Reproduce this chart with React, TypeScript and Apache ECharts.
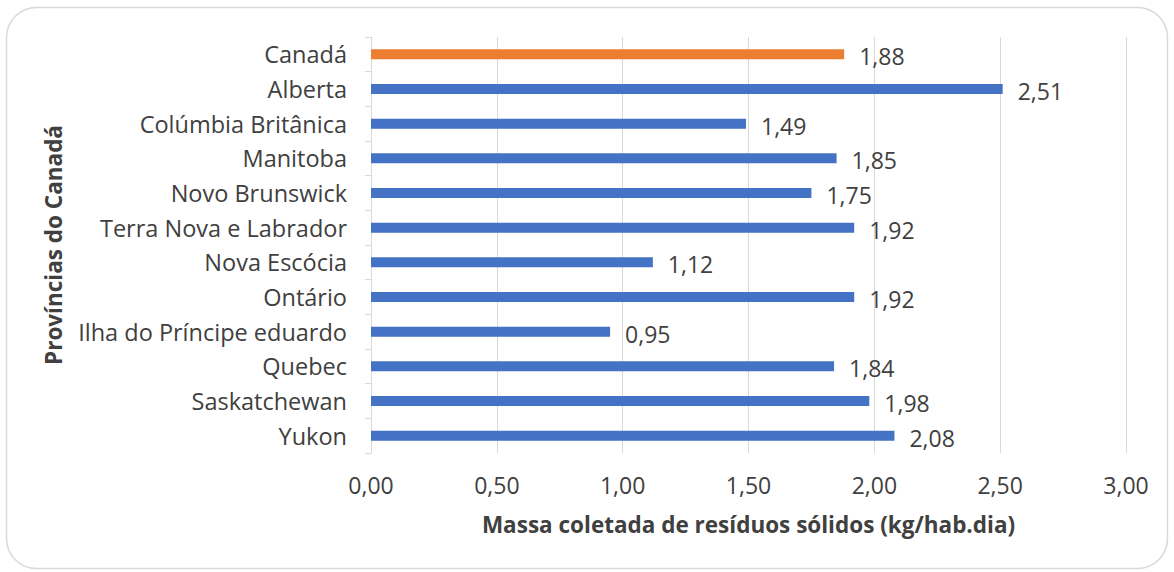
import React, { useEffect, useRef } from "react";
import * as echarts from "echarts";

const categories = [
  "Canadá",
  "Alberta",
  "Colúmbia Britânica",
  "Manitoba",
  "Novo Brunswick",
  "Terra Nova e Labrador",
  "Nova Escócia",
  "Ontário",
  "Ilha do Príncipe eduardo",
  "Quebec",
  "Saskatchewan",
  "Yukon",
];
const values = [1.88, 2.51, 1.49, 1.85, 1.75, 1.92, 1.12, 1.92, 0.95, 1.84, 1.98, 2.08];
const highlight = "Canadá";
const xTicks = { min: 0, max: 3, interval: 0.5 };
const xTitle = "Massa coletada de resíduos sólidos (kg/hab.dia)";
const yTitle = "Províncias do Canadá";

const FONT = "Open Sans";
const fmt = (v: number) => v.toFixed(2).replace(".", ",");

export default function App() {
  const ref = useRef<HTMLDivElement>(null);
  useEffect(() => {
    if (!ref.current) return;
    const chart = echarts.init(ref.current, undefined, { renderer: "svg" });
    chart.setOption({
      animation: false,
      backgroundColor: "#ffffff",
      textStyle: { fontFamily: FONT },
      graphic: [
        {
          type: "rect",
          shape: { x: 6.5, y: 7.5, width: 1161, height: 561, r: 30 },
          style: { fill: "none", stroke: "#d9d9d9", lineWidth: 1.5 },
          silent: true,
        },
      ],
      grid: { left: 371, right: 48, top: 37, bottom: 119, containLabel: false },
      xAxis: {
        type: "value",
        min: xTicks.min,
        max: xTicks.max,
        interval: xTicks.interval,
        axisLine: { show: false },
        axisTick: { show: false },
        splitLine: { show: true, lineStyle: { color: "#d9d9d9", width: 1 } },
        axisLabel: {
          formatter: (v: number) => fmt(v),
          color: "#404040",
          fontSize: 23,
          fontFamily: FONT,
          margin: 20,
        },
        name: xTitle,
        nameLocation: "middle",
        nameGap: 60,
        nameTextStyle: { color: "#404040", fontSize: 22.5, fontWeight: "bold", fontFamily: FONT },
      },
      yAxis: {
        type: "category",
        data: categories,
        inverse: true,
        axisLine: { show: true, lineStyle: { color: "#d9d9d9", width: 1 } },
        axisTick: { show: true, length: 6, lineStyle: { color: "#d9d9d9" } },
        splitLine: { show: false },
        axisLabel: { color: "#404040", fontSize: 23.5, fontFamily: FONT, margin: 24 },
        name: yTitle,
        nameLocation: "middle",
        nameGap: 306,
        nameRotate: 90,
        nameTextStyle: { color: "#404040", fontSize: 22.5, fontWeight: "bold", fontFamily: FONT },
      },
      series: [
        {
          type: "bar",
          data: values.map((v, i) => ({
            value: v,
            itemStyle: { color: categories[i] === highlight ? "#ED7D31" : "#4472C4" },
          })),
          barWidth: 10,
          label: {
            show: true,
            position: "right",
            distance: 15,
            offset: [0, 2],
            formatter: (p: any) => fmt(p.value),
            color: "#404040",
            fontSize: 23,
            fontFamily: FONT,
          },
        },
      ],
    });
    return () => chart.dispose();
  }, []);
  return (
    <div
      ref={ref}
      style={{ position: "absolute", left: 0, top: 0, width: 1174, height: 572 }}
    />
  );
}
